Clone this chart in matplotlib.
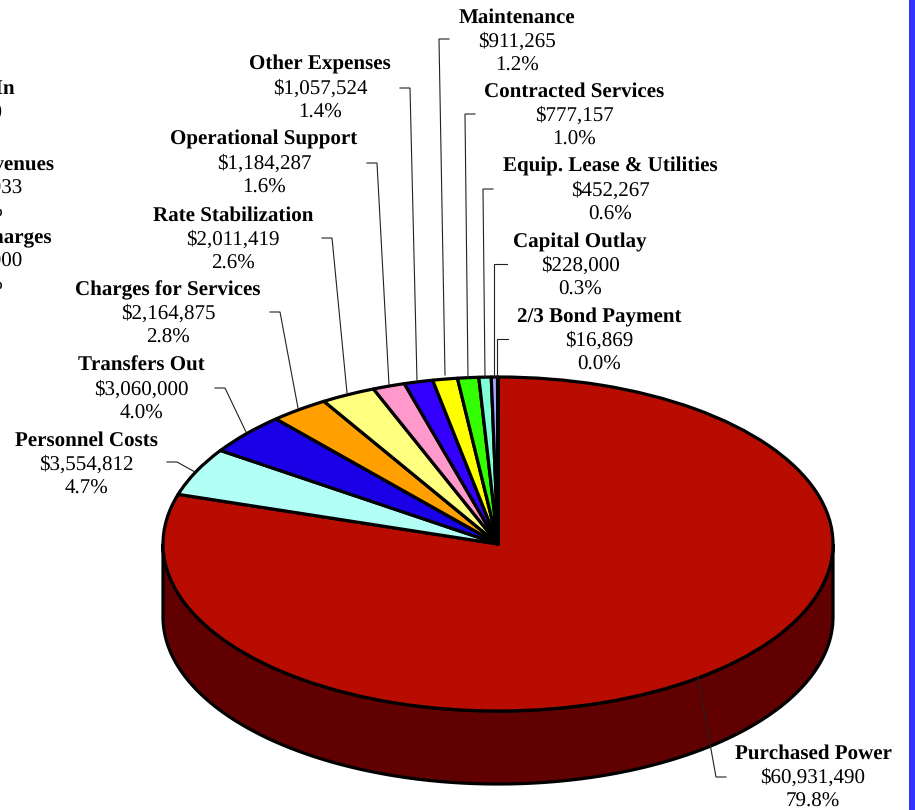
import matplotlib
matplotlib.use("Agg")
import matplotlib.pyplot as plt
import numpy as np

plt.rcParams['font.family'] = ['Liberation Serif', 'DejaVu Serif']
plt.rcParams['text.hinting'] = 'none'
plt.rcParams['text.hinting_factor'] = 1

W, H = 915, 810

categories = ["Purchased Power", "Personnel Costs", "Transfers Out", "Charges for Services",
              "Rate Stabilization", "Operational Support", "Other Expenses", "Maintenance",
              "Contracted Services", "Equip. Lease & Utilities", "Capital Outlay", "2/3 Bond Payment"]
values = [60931490, 3554812, 3060000, 2164875, 2011419, 1184287, 1057524, 911265,
          777157, 452267, 228000, 16869]
amounts = ["$60,931,490", "$3,554,812", "$3,060,000", "$2,164,875", "$2,011,419", "$1,184,287",
           "$1,057,524", "$911,265", "$777,157", "$452,267", "$228,000", "$16,869"]
percents = ["79.8%", "4.7%", "4.0%", "2.8%", "2.6%", "1.6%", "1.4%", "1.2%", "1.0%", "0.6%", "0.3%", "0.0%"]
colors = ["#B80C00", "#B2FFF6", "#1A00E6", "#FFA000", "#FFFF80", "#FF99CC", "#3300FF", "#FFFF00",
          "#33FF00", "#80FFD9", "#A6A6FF", "#FF8080"]
side_color = "#600000"

# Centre x and first-line baseline of each label block, in pixels
label_cx = [813, 86, 141, 168, 233, 264, 320, 517, 574, 610, 580, 599]
label_base = [759, 446, 371, 295, 221, 145, 70, 23, 97, 172, 247, 322]

# Leader polylines from label to slice, in pixels
leaders = [
    [(726, 777), (716, 777), (698, 677)],
    [(167, 462), (177, 462), (195, 472)],
    [(215, 388), (225, 388), (246, 432)],
    [(270, 312), (280, 312), (298, 408)],
    [(322, 238), (332, 238), (347, 393)],
    [(367, 163), (377, 163), (389, 385)],
    [(400, 88), (410, 88), (417, 381)],
    [(449, 39), (439, 39), (445, 375)],
    [(475, 114), (465, 114), (468, 378)],
    [(493, 189), (483, 189), (485, 377)],
    [(507, 264), (494, 264), (494, 377)],
    [(508, 339), (497, 339), (497, 377)],
]

# Labels of the groups running off the left edge of the page
edge_labels = [
    ("Transfers In", 15, 94, "bold"), ("$0", 2, 117, "normal"),
    ("Other Revenues", 54, 170, "bold"), ("$64,933", 22, 193, "normal"), ("0.0%", 3, 217, "normal"),
    ("Other Charges", 52, 243, "bold"), ("$50,000", 22, 266, "normal"), ("0.0%", 3, 290, "normal"),
]

FS = 15.0
LINE = 23.7

fig = plt.figure(figsize=(W / 100, H / 100), dpi=100, facecolor="white")

# Pixel-space overlay for text, leaders and the page strip
page = fig.add_axes([0, 0, 1, 1], zorder=3)
page.set_xlim(0, W)
page.set_ylim(H, 0)
page.axis("off")
page.patch.set_alpha(0)

# Elliptical pie: the axes box is the bounding box of the top face
cx0, cx1, cy0, cy1 = 163, 833, 377, 711
pie_ax = fig.add_axes([cx0 / W, 1 - cy1 / H, (cx1 - cx0) / W, (cy1 - cy0) / H], zorder=2)
wedges, _ = pie_ax.pie(values, colors=colors, startangle=90, counterclock=False, radius=1,
                       wedgeprops=dict(edgecolor="black", linewidth=2.3, joinstyle="round", zorder=3))
pie_ax.set_aspect("auto")
pie_ax.set_xlim(-1, 1)
pie_ax.set_ylim(-1, 1)
for w in wedges:
    w.set_clip_on(False)

# Side wall of the cylinder below the front rim
depth = 73 / ((cy1 - cy0) / 2)
t = np.radians(np.linspace(180, 360, 240))
rim_x, rim_y = np.cos(t), np.sin(t)
wall_x = np.concatenate([rim_x, rim_x[::-1]])
wall_y = np.concatenate([rim_y, rim_y[::-1] - depth])
pie_ax.fill(wall_x, wall_y, facecolor=side_color, edgecolor="black", linewidth=2.3,
            zorder=1, clip_on=False)

for pts in leaders:
    xs, ys = zip(*pts)
    page.plot(xs, ys, color="#222222", lw=0.8, solid_joinstyle="miter", clip_on=False)

for name, amount, pct, cx, base in zip(categories, amounts, percents, label_cx, label_base):
    page.text(cx, base, name, ha="center", va="baseline", fontsize=FS, fontweight="bold", color="black")
    page.text(cx, base + LINE, amount, ha="center", va="baseline", fontsize=FS, color="black")
    page.text(cx, base + 2 * LINE, pct, ha="center", va="baseline", fontsize=FS, color="black")

for txt, right, y, weight in edge_labels:
    page.text(right, y, txt, ha="right", va="baseline", fontsize=FS, fontweight=weight, color="black")

# Strip along the right edge of the page
page.axvspan(909, W, color="#3333FF", lw=0)

fig.savefig("out.png", dpi=100, facecolor="white")
